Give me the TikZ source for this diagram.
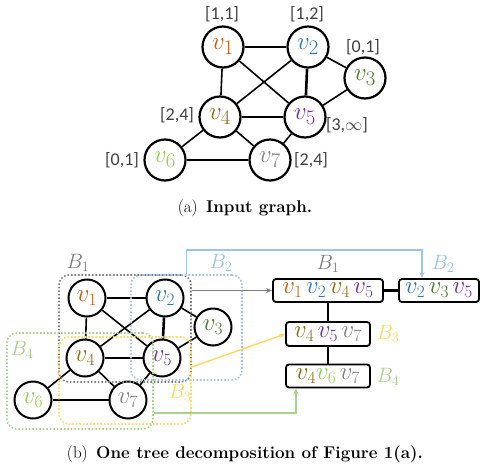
\documentclass[tikz,border=0pt]{standalone}
\usepackage{fontspec}
\newfontfamily\labelfont{Carlito}
\usetikzlibrary{arrows.meta,calc}

\definecolor{cOne}{HTML}{C55A11}
\definecolor{cTwo}{HTML}{2E75B6}
\definecolor{cThree}{HTML}{4E7A2E}
\definecolor{cFour}{HTML}{8C6A14}
\definecolor{cFive}{HTML}{7030A0}
\definecolor{cSix}{HTML}{92D050}
\definecolor{cSeven}{HTML}{808080}
\definecolor{bagA}{HTML}{7F7F7F}
\definecolor{bagB}{HTML}{9DC3E6}
\definecolor{bagC}{HTML}{FFD966}
\definecolor{bagD}{HTML}{A9D18E}

\newcommand{\vv}[2]{\textcolor{#1}{$v_{#2}$}}
\newcommand{\gap}{\hspace{3.5pt}}

\tikzset{
  bigvert/.style={circle, draw, line width=2.2pt, fill=white, minimum size=41pt, inner sep=0pt,
    font=\fontsize{29}{30}\selectfont},
  smallvert/.style={circle, draw, line width=2pt, fill=white, minimum size=37pt, inner sep=0pt,
    font=\fontsize{27}{28}\selectfont},
  gedge/.style={line width=1.6pt},
  heavyedge/.style={line width=2.6pt},
  interval/.style={font=\labelfont\fontsize{18}{20}\selectfont, text=black!75, inner sep=0pt},
  bagbox/.style={draw, line width=1.6pt, dash pattern=on 1.6pt off 1.9pt, rounded corners=10pt, inner sep=0pt},
  baglabel/.style={font=\fontsize{22}{24}\selectfont, inner sep=0pt},
  treenode/.style={draw, line width=1.8pt, rounded corners=3pt, fill=white, inner sep=0pt,
    font=\fontsize{24}{25}\selectfont},
  treeedge/.style={line width=2.6pt},
  link/.style={line width=1.5pt, -{Stealth[length=6pt,width=5pt]}},
  caption/.style={font=\fontsize{17}{19}\selectfont, inner sep=0pt}
}

\begin{document}
\begin{tikzpicture}[x=1pt,y=-1pt]
\useasboundingbox (0,0) rectangle (482,472);

% ---------- (a) input graph ----------
\node[bigvert] (a1) at (223,47)  {\vv{cOne}{1}};
\node[bigvert] (a2) at (308,47)  {\vv{cTwo}{2}};
\node[bigvert] (a3) at (365,78)  {\vv{cThree}{3}};
\node[bigvert] (a4) at (220,117) {\vv{cFour}{4}};
\node[bigvert] (a5) at (305,117) {\vv{cFive}{5}};
\node[bigvert] (a6) at (165,160) {\vv{cSix}{6}};
\node[bigvert] (a7) at (270,160) {\vv{cSeven}{7}};

\draw[gedge] (a1) -- (a2);
\draw[gedge] (a1) -- (a4);
\draw[gedge] (a1) -- (a5);
\draw[gedge] (a2) -- (a4);
\draw[heavyedge] (a2) -- (a5);
\draw[gedge] (a2) -- (a3);
\draw[gedge] (a3) -- (a5);
\draw[gedge] (a4) -- (a5);
\draw[gedge] (a4) -- (a6);
\draw[gedge] (a4) -- (a7);
\draw[gedge] (a5) -- (a7);
\draw[gedge] (a6) -- (a7);

\node[interval] (i1) at (222,14)  {[1,1]};
\node[interval] (i2) at (307,14)  {[1,2]};
\node[interval] (i3) at (363,47)  {[0,1]};
\node[interval] (i4) at (177,115) {[2,4]};
\node[interval] (i5) at (347,125) {[3,$\infty$]};
\node[interval] (i6) at (122,160) {[0,1]};
\node[interval] (i7) at (311,160) {[2,4]};

\node[caption] (capa) at (245,208) {(a)\enspace\textbf{Input graph.}};

% ---------- (b) graph with bags ----------
\node[smallvert] (b1) at (87,298)  {\vv{cOne}{1}};
\node[smallvert] (b2) at (165,298) {\vv{cTwo}{2}};
\node[smallvert] (b3) at (213,327) {\vv{cThree}{3}};
\node[smallvert] (b4) at (85,358)  {\vv{cFour}{4}};
\node[smallvert] (b5) at (162,358) {\vv{cFive}{5}};
\node[smallvert] (b6) at (33,400)  {\vv{cSix}{6}};
\node[smallvert] (b7) at (128,400) {\vv{cSeven}{7}};

\draw[gedge] (b1) -- (b2);
\draw[gedge] (b1) -- (b4);
\draw[gedge] (b1) -- (b5);
\draw[gedge] (b2) -- (b4);
\draw[heavyedge] (b2) -- (b5);
\draw[gedge] (b2) -- (b3);
\draw[gedge] (b3) -- (b5);
\draw[gedge] (b4) -- (b5);
\draw[gedge] (b4) -- (b6);
\draw[gedge] (b4) -- (b7);
\draw[gedge] (b5) -- (b7);
\draw[gedge] (b6) -- (b7);

% bags drawn as dotted rounded boxes
\node[bagbox, draw=bagA, minimum width=132pt, minimum height=107pt] (bxA) at (125,328.5) {};
\node[bagbox, draw=bagB, minimum width=111pt, minimum height=105pt] (bxB) at (186.5,327.5) {};
\node[bagbox, draw=bagC, minimum width=132pt, minimum height=87pt]  (bxC) at (125,380.5) {};
\node[bagbox, draw=bagD, minimum width=146pt, minimum height=96pt]  (bxD) at (80,381) {};

\node[baglabel, text=bagA] (lA) at (78,263)  {$B_1$};
\node[baglabel, text=bagB] (lB) at (221,263) {$B_2$};
\node[baglabel, text=bagC] (lC) at (180,393) {$B_3$};
\node[baglabel, text=bagD] (lD) at (22,350)  {$B_4$};

% ---------- tree decomposition ----------
\node[treenode, minimum width=110pt, minimum height=23pt] (tA) at (328,290.5)
  {\vv{cOne}{1}\gap\vv{cTwo}{2}\gap\vv{cFour}{4}\gap\vv{cFive}{5}};
\node[treenode, minimum width=80pt, minimum height=23pt] (tB) at (439,290.5)
  {\vv{cTwo}{2}\gap\vv{cThree}{3}\gap\vv{cFive}{5}};
\node[treenode, minimum width=84pt, minimum height=24pt] (tC) at (328,334)
  {\vv{cFour}{4}\gap\vv{cFive}{5}\gap\vv{cSeven}{7}};
\node[treenode, minimum width=84pt, minimum height=23pt] (tD) at (328,376)
  {\vv{cFour}{4}\vv{cSix}{6}\gap\vv{cSeven}{7}};

\draw[treeedge] (tA.east) -- (tB.west);
\draw[treeedge] (tA.south) -- (tC.north);
\draw[treeedge] (tC.south) -- (tD.north);

\node[baglabel, text=bagA] (tlA) at (328,264) {$B_1$};
\node[baglabel, text=bagB] (tlB) at (443,264) {$B_2$};
\node[baglabel, text=bagC] (tlC) at (388,334) {$B_3$};
\node[baglabel, text=bagD] (tlD) at (388,377) {$B_4$};

% links from bags to tree nodes
\draw[link, draw=bagA] (bxA.east |- tA.west) -- (tA.west);
\draw[link, draw=bagB] (bxB.north) -- ++(0,-24) -| ([xshift=-17pt]tB.north);
\draw[link, draw=bagC] ([yshift=13.5pt]bxC.east) -- (tC.west);
\draw[link, draw=bagD] ([yshift=-32pt]bxD.east) -| ([xshift=-32pt]tD.south);

\node[caption] (capb) at (245,454) {(b)\enspace\textbf{One tree decomposition of Figure 1(a).}};
\end{tikzpicture}
\end{document}
